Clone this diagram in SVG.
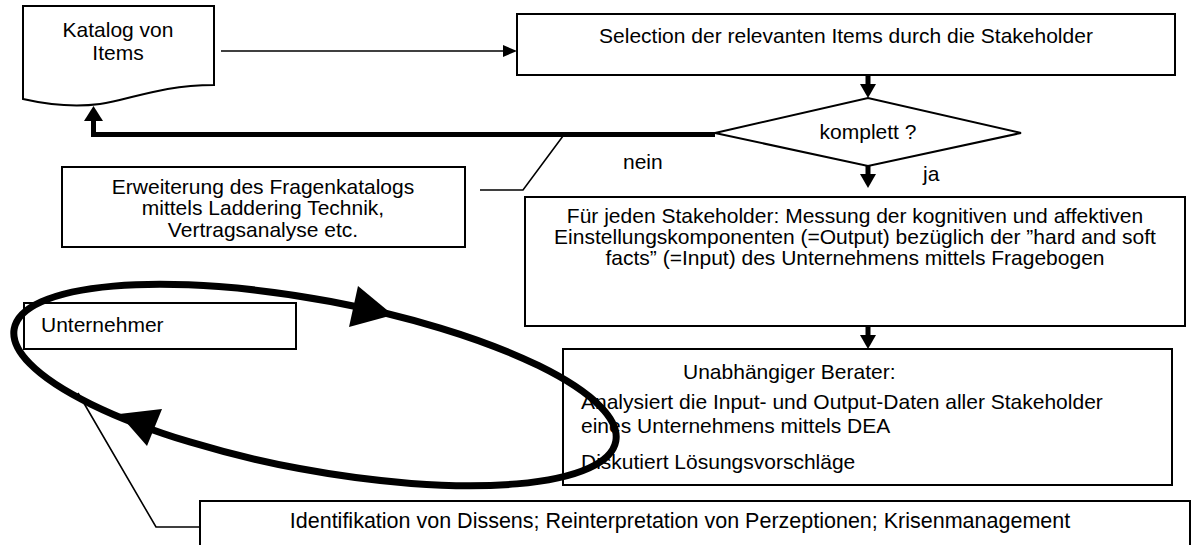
<svg xmlns="http://www.w3.org/2000/svg" width="1202" height="545" viewBox="0 0 1202 545">
<style>
text{font-family:"Liberation Sans",Arial,sans-serif;font-size:21px;fill:#000}
.box{fill:#fff;stroke:#000;stroke-width:2}
.thin{fill:none;stroke:#000;stroke-width:1.6}
.thick{fill:none;stroke:#000;stroke-width:5}
.head{fill:#000;stroke:none}
.c{text-anchor:middle}
</style>
<rect width="1202" height="545" fill="#fff"/>
<g id="katalog">
<path class="box" d="M23,6 H214 V85 C160,85 130,100 100,104 C70,108 45,104 23,99 Z"/>
<text class="c" x="118" y="37">Katalog von</text>
<text class="c" x="118" y="60">Items</text>
</g>
<g id="selection">
<rect class="box" x="517" y="14" width="658" height="61"/>
<text class="c" x="846" y="43">Selection der relevanten Items durch die Stakeholder</text>
</g>
<g id="komplett">
<polygon class="box" points="715,133 868,98 1021,133 868,166"/>
<text class="c" x="868" y="139">komplett ?</text>
</g>
<g id="erweiterung">
<rect class="box" x="62" y="167" width="403" height="80"/>
<text class="c" x="263" y="194">Erweiterung des Fragenkatalogs</text>
<text class="c" x="263" y="215">mittels Laddering Technik,</text>
<text class="c" x="263" y="237">Vertragsanalyse etc.</text>
</g>
<g id="messung">
<rect class="box" x="525" y="197" width="660" height="129"/>
<text class="c" x="855" y="223">Für jeden Stakeholder: Messung der kognitiven und affektiven</text>
<text class="c" x="855" y="244">Einstellungskomponenten (=Output) bezüglich der ”hard and soft</text>
<text class="c" x="855" y="265">facts” (=Input) des Unternehmens mittels Fragebogen</text>
</g>
<g id="unternehmer">
<rect class="box" x="24" y="303" width="272" height="46"/>
<text x="41" y="332">Unternehmer</text>
</g>
<g id="berater">
<rect class="box" x="563" y="349" width="609" height="136"/>
<text x="683" y="379">Unabhängiger Berater:</text>
<text x="581" y="409">Analysiert die Input- und Output-Daten aller Stakeholder</text>
<text x="581" y="433">eines Unternehmens mittels DEA</text>
<text x="581" y="469">Diskutiert Lösungsvorschläge</text>
</g>
<g id="identifikation">
<rect class="box" x="200" y="501" width="990" height="60"/>
<text class="c" x="680" y="528" style="font-size:21.5px">Identifikation von Dissens; Reinterpretation von Perzeptionen; Krisenmanagement</text>
</g>
<g id="labels">
<text x="623" y="169">nein</text>
<text x="923" y="181">ja</text>
</g>
<g id="connectors">
<line class="thin" x1="221" y1="51" x2="504" y2="51"/>
<polygon class="head" points="517,51 503,45 503,57"/>
<line class="thick" x1="868" y1="75" x2="868" y2="86" stroke-width="4"/>
<polygon class="head" points="868,98 860,84 876,84"/>
<line class="thick" x1="868" y1="166" x2="868" y2="177" stroke-width="4"/>
<polygon class="head" points="868,188 860,174 876,174"/>
<line class="thick" x1="868" y1="326" x2="868" y2="338" stroke-width="4"/>
<polygon class="head" points="868,349 860,335 876,335"/>
<polyline class="thick" points="715,134.5 93.5,134.5 93.5,118"/>
<polygon class="head" points="93.5,106 84,121 103,121"/>
<polyline class="thin" points="480,190 523,190 563,136"/>
<polyline class="thin" points="200,527 156,527 78,393"/>
<ellipse cx="315" cy="385" rx="306" ry="85" transform="rotate(10.6 315 385)" fill="none" stroke="#000" stroke-width="7"/>
<polygon class="head" points="393,315 358,286 349,327"/>
<polygon class="head" points="119,414 162,409 147,446"/>
</g>
</svg>
